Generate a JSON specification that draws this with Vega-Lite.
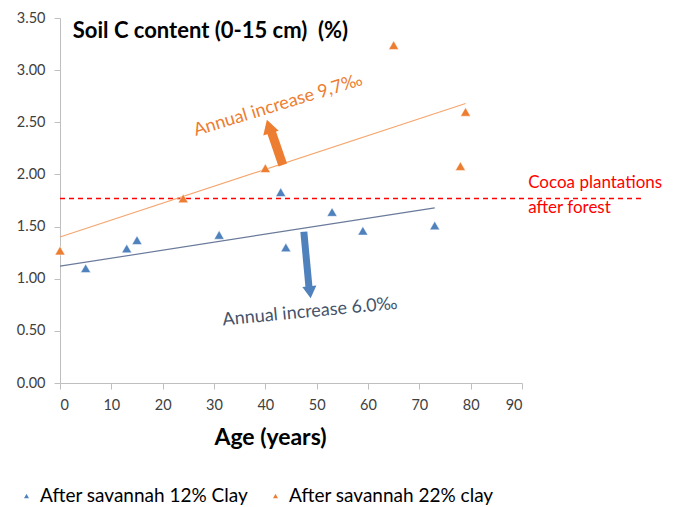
{
  "$schema": "https://vega.github.io/schema/vega-lite/v6.json",
  "autosize": "none",
  "width": 462,
  "height": 365,
  "padding": {"left": 60, "top": 18, "right": 166, "bottom": 124},
  "background": "white",
  "config": {
    "view": {"stroke": null},
    "font": "Lato",
    "axis": {"grid": false, "domainColor": "#BFBFBF", "tickColor": "#BFBFBF", "labelColor": "#404040", "labelFont": "Lato", "labelFontSize": 14.5, "tickSize": 6}
  },
  "datasets": {
    "points": [
      {"age": 5, "c": 1.10, "series": "After savannah 12% Clay"},
      {"age": 13, "c": 1.29, "series": "After savannah 12% Clay"},
      {"age": 15, "c": 1.37, "series": "After savannah 12% Clay"},
      {"age": 31, "c": 1.42, "series": "After savannah 12% Clay"},
      {"age": 43, "c": 1.83, "series": "After savannah 12% Clay"},
      {"age": 44, "c": 1.30, "series": "After savannah 12% Clay"},
      {"age": 53, "c": 1.64, "series": "After savannah 12% Clay"},
      {"age": 59, "c": 1.46, "series": "After savannah 12% Clay"},
      {"age": 73, "c": 1.51, "series": "After savannah 12% Clay"},
      {"age": 0, "c": 1.27, "series": "After savannah 22% clay"},
      {"age": 24, "c": 1.77, "series": "After savannah 22% clay"},
      {"age": 40, "c": 2.06, "series": "After savannah 22% clay"},
      {"age": 65, "c": 3.24, "series": "After savannah 22% clay"},
      {"age": 78, "c": 2.08, "series": "After savannah 22% clay"},
      {"age": 79, "c": 2.60, "series": "After savannah 22% clay"}
    ],
    "trendBlue": [{"age": 0, "c": 1.12}, {"age": 73, "c": 1.68}],
    "trendOrange": [{"age": 0, "c": 1.40}, {"age": 79, "c": 2.68}],
    "refline": [{"x": 0, "x2": 113.5, "y": 1.77}],
    "shaftOrange": [{"x": 43.4, "y": 2.09, "x2": 41.1, "y2": 2.42}],
    "shaftBlue": [{"x": 47.5, "y": 1.45, "x2": 48.5, "y2": 0.92}],
    "headOrange": [{"x": 40.7, "y": 2.46}],
    "headBlue": [{"x": 48.7, "y": 0.87}],
    "labOrange": [{"x": 42.5, "y": 2.66, "text": "Annual increase 9,7‰"}],
    "labBlue": [{"x": 48.7, "y": 0.68, "text": "Annual increase 6.0‰"}],
    "labRed": [{"x": 91.2, "y": 1.92, "text": "Cocoa plantations"}, {"x": 91.2, "y": 1.68, "text": "after forest"}],
    "title": [{"x": 2.5, "y": 3.38, "text": "Soil C content (0-15 cm)\u00a0 (%)"}]
  },
  "encoding": {
    "x": {"field": "age", "type": "quantitative", "scale": {"domain": [0, 90], "nice": false},
      "axis": {"values": [0,10,20,30,40,50,60,70,80,90], "title": "Age (years)", "titleFont": "Lato", "titleFontSize": 23, "titleFontWeight": "bold", "titleColor": "#000000", "titleX": 210, "titleAlign": "center", "titlePadding": 15, "labelPadding": 9}},
    "y": {"field": "c", "type": "quantitative", "scale": {"domain": [0, 3.5], "nice": false},
      "axis": {"values": [0,0.5,1,1.5,2,2.5,3,3.5], "format": ".2f", "title": null, "labelPadding": 9}}
  },
  "layer": [
    {"data": {"name": "refline"}, "mark": {"type": "rule", "color": "#FF0000", "strokeWidth": 1.5, "strokeDash": [5, 4], "clip": false},
      "encoding": {"x": {"field": "x", "type": "quantitative"}, "x2": {"field": "x2"}, "y": {"field": "y", "type": "quantitative"}}},
    {"data": {"name": "trendOrange"}, "mark": {"type": "line", "color": "#F5A66E", "strokeWidth": 1.2}, "encoding": {}},
    {"data": {"name": "trendBlue"}, "mark": {"type": "line", "color": "#6A7A9A", "strokeWidth": 1.2}, "encoding": {}},
    {"data": {"name": "points"}, "mark": {"type": "point", "shape": "triangle-up", "filled": true, "size": 100, "opacity": 1, "stroke": "#FFFFFF", "strokeWidth": 0.5},
      "encoding": {"color": {"field": "series", "type": "nominal", "scale": {"domain": ["After savannah 12% Clay", "After savannah 22% clay"], "range": ["#4F81BD", "#ED7D31"]},
        "legend": {"title": null, "orient": "none", "legendX": -43, "legendY": 468, "direction": "horizontal", "symbolType": "triangle-up", "symbolSize": 60, "labelFontSize": 19, "labelFont": "Lato", "labelColor": "#000000", "columnPadding": 17, "labelLimit": 400}}}},
    {"data": {"name": "shaftOrange"}, "mark": {"type": "rule", "color": "#ED7D31", "strokeWidth": 9},
      "encoding": {"x": {"field": "x", "type": "quantitative"}, "y": {"field": "y", "type": "quantitative"}, "x2": {"field": "x2"}, "y2": {"field": "y2"}}},
    {"data": {"name": "headOrange"}, "mark": {"type": "point", "shape": "triangle-up", "filled": true, "size": 260, "angle": -17, "color": "#ED7D31", "opacity": 1},
      "encoding": {"x": {"field": "x", "type": "quantitative"}, "y": {"field": "y", "type": "quantitative"}}},
    {"data": {"name": "shaftBlue"}, "mark": {"type": "rule", "color": "#4F81BD", "strokeWidth": 7},
      "encoding": {"x": {"field": "x", "type": "quantitative"}, "y": {"field": "y", "type": "quantitative"}, "x2": {"field": "x2"}, "y2": {"field": "y2"}}},
    {"data": {"name": "headBlue"}, "mark": {"type": "point", "shape": "triangle-down", "filled": true, "size": 200, "angle": -6, "color": "#4F81BD", "opacity": 1},
      "encoding": {"x": {"field": "x", "type": "quantitative"}, "y": {"field": "y", "type": "quantitative"}}},
    {"data": {"name": "labOrange"}, "mark": {"type": "text", "color": "#ED7D31", "fontSize": 18, "angle": -17, "font": "Lato"},
      "encoding": {"x": {"field": "x", "type": "quantitative"}, "y": {"field": "y", "type": "quantitative"}, "text": {"field": "text"}}},
    {"data": {"name": "labBlue"}, "mark": {"type": "text", "color": "#44546A", "fontSize": 18, "angle": -5.5, "font": "Lato"},
      "encoding": {"x": {"field": "x", "type": "quantitative"}, "y": {"field": "y", "type": "quantitative"}, "text": {"field": "text"}}},
    {"data": {"name": "labRed"}, "mark": {"type": "text", "color": "#FF0000", "fontSize": 17, "align": "left", "font": "Lato", "clip": false},
      "encoding": {"x": {"field": "x", "type": "quantitative"}, "y": {"field": "y", "type": "quantitative"}, "text": {"field": "text"}}},
    {"data": {"name": "title"}, "mark": {"type": "text", "color": "#000000", "fontSize": 22, "fontWeight": "bold", "align": "left", "font": "Lato"},
      "encoding": {"x": {"field": "x", "type": "quantitative"}, "y": {"field": "y", "type": "quantitative"}, "text": {"field": "text"}}}
  ]
}
